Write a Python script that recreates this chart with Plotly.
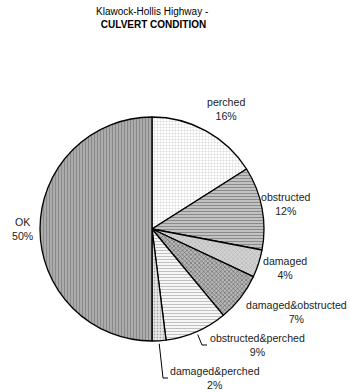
import math
import plotly.graph_objects as go

# Culvert condition shares (percent), clockwise from 12 o'clock
categories = ["perched", "obstructed", "damaged", "damaged&obstructed",
              "obstructed&perched", "damaged&perched", "OK"]
shares = [16, 12, 4, 7, 9, 2, 50]

W, H = 350, 392
CX, CY, R = 152, 229, 112          # pie centre and radius in pixels

# fill patterns per slice: (shape, foreground, background, size, solidity)
patterns = [
    ("+", "#c4c4c4", "#ffffff", 3, 0.2),
    ("-", "#8a8a8a", "#c8c8c8", 3, 0.4),
    ("x", "#a8a8a8", "#d4d4d4", 3, 0.3),
    ("x", "#6a6a6a", "#b8b8b8", 3, 0.4),
    ("-", "#c0c0c0", "#f6f6f6", 3, 0.35),
    (".", "#a8a8a8", "#eeeeee", 3, 0.35),
    ("|", "#8a8a8a", "#b2b2b2", 3, 0.45),
]

# label anchor points (pixels, centre of the two-line label)
label_pos = [(226, 109), (286, 204), (285, 268), (296, 312),
             (257, 345), (215, 378), (23, 229)]


def px(x):
    return x / W


def py(y):
    return 1 - y / H


fig = go.Figure(go.Pie(
    labels=categories,
    values=shares,
    sort=False,
    direction="clockwise",
    rotation=0,
    textinfo="none",
    hoverinfo="label+percent",
    showlegend=False,
    domain=dict(x=[px(CX - R), px(CX + R)], y=[py(CY + R), py(CY - R)]),
    marker=dict(
        colors=[p[2] for p in patterns],
        line=dict(color="black", width=1.3),
        pattern=dict(
            shape=[p[0] for p in patterns],
            fgcolor=[p[1] for p in patterns],
            bgcolor=[p[2] for p in patterns],
            size=[p[3] for p in patterns],
            solidity=[p[4] for p in patterns],
        ),
    ),
))

total = sum(shares)
annotations = []
for name, val, (lx, ly) in zip(categories, shares, label_pos):
    annotations.append(dict(
        x=px(lx), y=py(ly), xref="paper", yref="paper",
        xanchor="center", yanchor="middle",
        text=f"{name}<br>{round(100 * val / total)}%",
        showarrow=False, align="center",
        font=dict(family="Liberation Sans, Arial", size=10.6, color="#222"),
    ))

# elbow leader lines for the two narrow slices near the bottom
leader_end = {"obstructed&perched": (207, 345), "damaged&perched": (168, 378)}
shapes = []
cum = 0
for i, val in enumerate(shares):
    mid = (cum + val / 2) / total * 2 * math.pi
    cum += val
    name = categories[i]
    if name in leader_end:
        sx = CX + (R + 3) * math.sin(mid)
        sy = CY - (R + 3) * math.cos(mid)
        ex, ey = leader_end[name]
        pts = [(sx, sy), (ex - 5, ey), (ex, ey)]
        path = "M " + " L ".join(f"{px(a)},{py(b)}" for a, b in pts)
        shapes.append(dict(type="path", xref="paper", yref="paper", path=path,
                           line=dict(color="black", width=1)))

annotations.append(dict(
    x=px(153), y=py(18), xref="paper", yref="paper",
    xanchor="center", yanchor="middle",
    text="Klawock-Hollis Highway - <br><b>CULVERT CONDITION</b>",
    showarrow=False, align="center",
    font=dict(family="Liberation Sans, Arial", size=10, color="black"),
))

fig.update_layout(
    width=W, height=H,
    margin=dict(l=0, r=0, t=0, b=0),
    paper_bgcolor="white",
    plot_bgcolor="white",
    annotations=annotations,
    shapes=shapes,
)

fig.write_html("out.html")
